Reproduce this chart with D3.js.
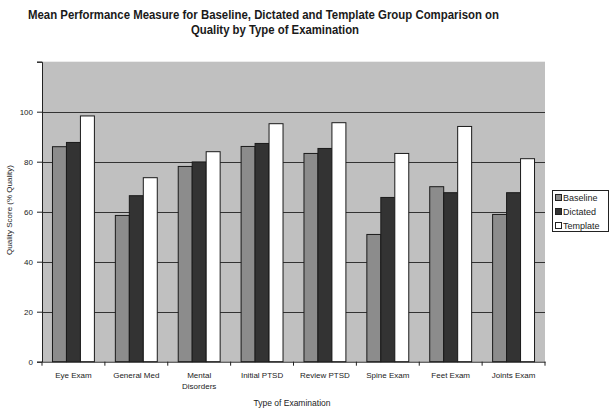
<!DOCTYPE html>
<html><head><meta charset="utf-8">
<script src="https://cdn.jsdelivr.net/npm/d3@7"></script>
<style>body{margin:0;background:#fff}svg{display:block}text{font-family:"Liberation Sans",Arial,sans-serif}</style>
</head><body>
<svg id="c" width="615" height="413"></svg>
<script>
const categories = ["Eye Exam","General Med","Mental Disorders","Initial PTSD","Review PTSD","Spine Exam","Feet Exam","Joints Exam"];
const categoryLines = [["Eye Exam"],["General Med"],["Mental","Disorders"],["Initial PTSD"],["Review PTSD"],["Spine Exam"],["Feet Exam"],["Joints Exam"]];
const seriesNames = ["Baseline","Dictated","Template"];
const baseline = [86.0, 58.5, 78.1, 86.1, 83.3, 50.9, 70.0, 58.9];
const dictated = [87.7, 66.4, 79.9, 87.3, 85.3, 65.7, 67.6, 67.6];
const template = [98.3, 73.6, 84.0, 95.2, 95.6, 83.3, 94.1, 81.2];
const yTicks = [0,20,40,60,80,100,120];
const yTickLabels = ["0","20","40","60","80","100",""];
const colors = ["#8c8c8c","#333333","#ffffff"];

const series = [baseline, dictated, template];
const svg = d3.select("#c");
const m = {l:42, r:545, t:61.7, b:361.7};

const x0 = d3.scaleBand().domain(categories).range([m.l, m.r]).paddingInner(0).paddingOuter(0);
const y = d3.scaleLinear().domain([0,120]).range([m.b, m.t]);
const groupW = x0.bandwidth()*3/4.5;
const x1 = d3.scaleBand().domain(seriesNames).range([0, groupW]).padding(0);

// plot background
svg.append("rect").attr("x", m.l).attr("y", m.t).attr("width", m.r-m.l).attr("height", m.b-m.t).attr("fill","#c0c0c0");

// gridlines
svg.append("g").selectAll("line").data(yTicks.filter(d=>d>0 && d<120)).join("line")
  .attr("x1", m.l).attr("x2", m.r).attr("y1", d=>Math.round(y(d))+0.5).attr("y2", d=>Math.round(y(d))+0.5)
  .attr("stroke","#333").attr("stroke-width",1);

// bars
const g = svg.append("g");
categories.forEach((c,i)=>{
  const gx = x0(c) + (x0.bandwidth()-groupW)/2;
  seriesNames.forEach((s,j)=>{
    const v = series[j][i];
    g.append("rect")
      .attr("x", gx + x1(s)).attr("y", y(v))
      .attr("width", x1.bandwidth()).attr("height", y(0)-y(v))
      .attr("fill", colors[j]).attr("stroke","#1a1a1a").attr("stroke-width",1);
  });
});

// y axis
const yAxis = d3.axisLeft(y).tickValues(yTicks).tickFormat((d,i)=>yTickLabels[i]).tickSize(5).tickPadding(4);
const ya = svg.append("g").attr("transform",`translate(${m.l},0)`).call(yAxis);
ya.select(".domain").attr("stroke","#222");
ya.selectAll(".tick line").attr("stroke","#222");
ya.selectAll("text").attr("font-size",8).attr("fill","#222");

// x axis
const xAxis = d3.axisBottom(x0).tickSize(0).tickFormat("");
const xa = svg.append("g").attr("transform",`translate(0,${m.b})`).call(xAxis);
xa.select(".domain").attr("stroke","#222");
xa.selectAll(".tick").remove();
svg.append("g").selectAll("line").data(d3.range(categories.length+1)).join("line")
  .attr("x1", i=>m.l + i*x0.bandwidth()).attr("x2", i=>m.l + i*x0.bandwidth())
  .attr("y1", m.b).attr("y2", m.b+4).attr("stroke","#222");

// x labels
categories.forEach((c,i)=>{
  const t = svg.append("text").attr("x", x0(c)+x0.bandwidth()/2).attr("y", 378)
    .attr("text-anchor","middle").attr("font-size",8).attr("fill","#222");
  categoryLines[i].forEach((ln,k)=>{
    t.append("tspan").attr("x", x0(c)+x0.bandwidth()/2).attr("dy", k===0?0:11).text(ln);
  });
});

// axis titles
svg.append("text").attr("x", 292).attr("y", 406).attr("text-anchor","middle").attr("font-size",8.5).attr("fill","#222").text("Type of Examination");
svg.append("text").attr("transform","translate(12,210) rotate(-90)").attr("text-anchor","middle").attr("font-size",8).attr("fill","#222").text("Quality Score (% Quality)");

// title
svg.append("text").attr("x", 28).attr("y", 18.5).attr("font-size",12.5).attr("font-weight","bold").attr("fill","#1a1a1a")
  .attr("textLength",471).attr("lengthAdjust","spacingAndGlyphs")
  .text("Mean Performance Measure for Baseline, Dictated and Template Group Comparison on");
svg.append("text").attr("x", 191).attr("y", 33.5).attr("font-size",12.5).attr("font-weight","bold").attr("fill","#1a1a1a")
  .attr("textLength",168).attr("lengthAdjust","spacingAndGlyphs")
  .text("Quality by Type of Examination");

// legend
const lg = svg.append("g");
lg.append("rect").attr("x",552.5).attr("y",190.5).attr("width",56).attr("height",41).attr("fill","#fff").attr("stroke","#222");
seriesNames.forEach((s,j)=>{
  const yy = 197.5 + j*14;
  lg.append("rect").attr("x",555.5).attr("y",yy-3).attr("width",6).attr("height",6).attr("fill",colors[j]).attr("stroke","#222");
  lg.append("text").attr("x",563).attr("y",yy+3.5).attr("font-size",9).attr("fill","#222").text(s);
});
</script>
</body></html>
